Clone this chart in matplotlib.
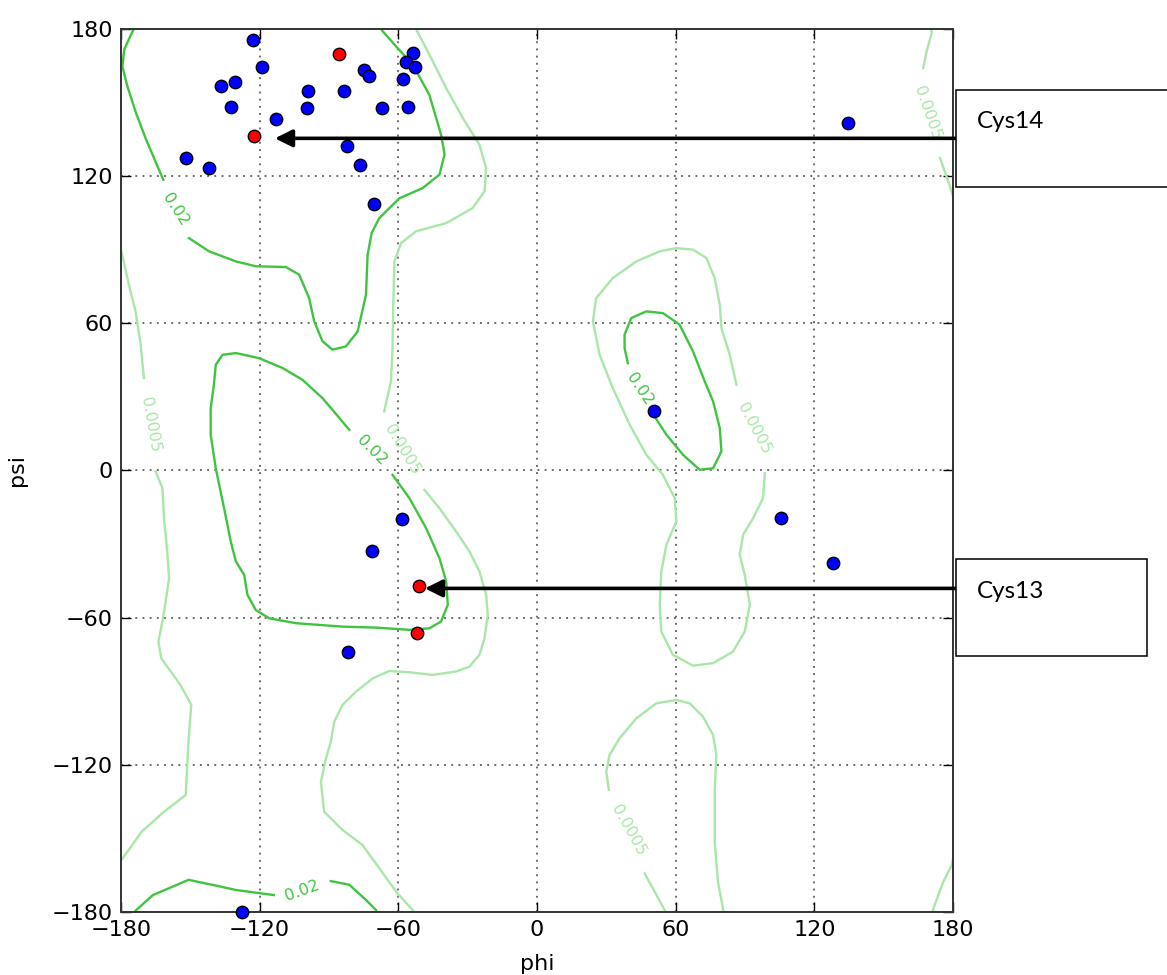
import numpy as np
import matplotlib.pyplot as plt
from matplotlib.patches import Rectangle

# residue dihedral angles (degrees)
phi_blue = [-123.1, -118.9, -136.7, -130.8, -132.4, -113.0, -152.0, -141.9, -99.0, -99.7,
            -83.4, -75.0, -72.6, -66.9, -82.0, -76.6, -70.4, -53.8, -56.8, -52.6,
            -57.8, -55.7, 134.5, 50.6, -58.4, -71.6, 105.5, 128.3, -81.7, -127.6]
psi_blue = [175.5, 164.6, 157.0, 158.6, 148.3, 143.4, 127.5, 123.4, 154.8, 148.0,
            155.0, 163.3, 160.8, 147.8, 132.4, 124.8, 108.7, 170.5, 166.7, 164.6,
            159.9, 148.2, 141.6, 24.4, -19.9, -32.7, -19.3, -37.8, -73.9, -180.0]
phi_red = [-122.4, -85.6, -51.2, -51.9]
psi_red = [136.3, 169.9, -47.1, -66.4]

# contour level 0.02 (traced pieces, phi/psi pairs)
c02_beta_left = [(-174.5, 180), (-175.6, 178), (-178.6, 171.7), (-179.4, 164.8), (-177.2, 156.6),
                 (-173.5, 145.8), (-169.1, 134.9), (-164.8, 125.4), (-161.7, 118.6)]
c02_beta_right = [(-150.6, 94.8), (-141.9, 89.4), (-130.3, 85.3), (-121.7, 83.3), (-108.7, 83.0),
                  (-102.9, 79.9), (-98.6, 70.3), (-96.4, 60.8), (-92.8, 52.7), (-88.5, 49.3),
                  (-82.7, 50.6), (-77.6, 56.7), (-74.0, 71.7), (-73.3, 88.0), (-71.5, 97.0),
                  (-68.2, 103.0), (-59.6, 111.0), (-49.5, 115.2), (-42.2, 120.7), (-40.0, 129.0),
                  (-41.5, 137.0), (-46.6, 153.3), (-53.8, 165.6), (-60.0, 172.0), (-66.8, 179.2),
                  (-67.3, 180)]
c02_beta_bottom_a = [(-174.0, -180), (-173.4, -179.3), (-166.2, -173.2), (-150.8, -167.0),
                     (-140.1, -169.1), (-130.5, -171.1), (-113.9, -173.2)]
c02_beta_bottom_b = [(-89.2, -167.5), (-81.2, -169.0), (-74.0, -175.2), (-69.7, -179.3), (-69.4, -180)]
c02_alpha_r = [(-62.5, -1.8), (-55.2, -11.3), (-48.0, -23.5), (-42.2, -35.8), (-39.3, -45.3),
               (-38.6, -54.8), (-41.5, -61.6), (-46.6, -64.4), (-55.2, -65.0), (-69.7, -64.1),
               (-84.1, -63.7), (-104.3, -62.3), (-115.9, -60.3), (-121.7, -56.9), (-125.3, -50.7),
               (-126.7, -42.6), (-130.3, -37.1), (-132.5, -29.0), (-135.4, -15.4), (-139.0, 0.9),
               (-141.2, 14.6), (-141.2, 25.4), (-139.8, 35.0), (-139.0, 43.1), (-136.1, 47.2),
               (-130.3, 47.9), (-120.2, 45.8), (-110.1, 41.8), (-101.5, 37.0), (-92.8, 29.5),
               (-81.2, 16.6)]
c02_alpha_l = [(50.9, 22.0), (56.0, 14.6), (63.2, 6.4), (70.4, 0.3), (76.2, 0.9), (79.8, 7.8),
               (79.1, 17.3), (76.2, 28.2), (72.6, 36.3), (67.5, 48.6), (61.7, 59.5), (54.5, 64.2),
               (47.3, 64.9), (40.8, 62.2), (37.9, 55.4), (37.9, 49.9), (39.3, 43.8)]

# contour level 0.0005
c0005_main_top = [(-52.3, 180), (-46.6, 169.7), (-39.3, 156.0), (-32.1, 143.8), (-24.9, 132.9),
                  (-22.0, 123.4), (-22.7, 113.9), (-27.8, 107.1), (-39.3, 100.9), (-52.3, 97.6),
                  (-58.8, 92.8), (-61.7, 85.3), (-62.2, 67.6), (-62.5, 49.9), (-63.2, 36.3),
                  (-66.1, 24.1)]
c0005_main_bottom = [(-48.7, -7.9), (-42.2, -15.4), (-35.0, -24.9), (-29.2, -33.1), (-24.9, -41.2),
                     (-22.0, -50.7), (-21.3, -58.9), (-22.7, -68.4), (-24.9, -75.2), (-29.2, -80.0),
                     (-35.0, -82.0), (-45.1, -83.4), (-55.2, -82.3), (-63.9, -81.8), (-71.1, -84.8),
                     (-78.3, -90.2), (-84.1, -95.6), (-87.7, -102.4), (-89.2, -110.6), (-91.3, -117.4),
                     (-93.5, -127.0), (-92.1, -139.2), (-84.1, -146.7), (-75.5, -152.8),
                     (-68.2, -162.3), (-61.0, -171.8), (-53.8, -179.3), (-53.4, -180)]
c0005_left_top = [(-180, 90.0), (-179.5, 88.0), (-176.6, 75.8), (-173.7, 64.9), (-171.5, 51.3),
                  (-170.1, 37.7)]
c0005_left_bottom = [(-165.0, -0.4), (-162.1, -7.2), (-161.4, -19.5), (-160.0, -33.1), (-159.2, -44.0),
                     (-160.7, -53.5), (-162.1, -61.6), (-163.8, -69.8), (-162.6, -76.6),
                     (-154.3, -87.5), (-149.6, -95.6), (-150.8, -110.6), (-152.0, -132.4),
                     (-161.4, -139.2), (-171.0, -147.3), (-179.3, -158.2), (-180, -159.0)]
c0005_right_top_a = [(170.6, 180), (170.8, 178.5), (168.6, 171.0), (167.1, 164.2)]
c0005_right_top_b = [(174.4, 127.5), (178.7, 115.9), (180, 112.0)]
c0005_right_bottom = [(180, -158.5), (179.5, -160.9), (175.8, -167.8), (171.5, -178.7), (171.2, -180)]
c0005_alpha_l = [(98.6, -1.1), (97.8, -11.3), (93.5, -19.5), (89.2, -26.2), (87.7, -34.4),
                 (89.9, -42.6), (92.1, -54.8), (89.9, -65.7), (84.8, -73.9), (76.2, -78.6),
                 (67.5, -79.6), (58.8, -75.2), (53.8, -65.7), (53.1, -54.8), (53.8, -41.2),
                 (56.0, -30.3), (60.3, -20.8), (59.6, -11.3), (54.5, -1.8), (47.3, 6.4),
                 (40.1, 18.7), (32.8, 33.6), (27.1, 47.2), (24.2, 60.8), (25.6, 70.3),
                 (32.8, 78.5), (43.0, 85.3), (53.1, 89.4), (60.3, 90.7), (67.5, 90.1),
                 (73.3, 86.7), (76.9, 78.5), (79.1, 67.6), (79.8, 58.1), (83.4, 47.2),
                 (86.3, 35.0)]
c0005_tongue_a = [(31.1, -130.3), (30.0, -122.9), (31.4, -116.0), (35.7, -109.3), (43.0, -101.1),
                  (51.6, -95.0), (60.3, -93.6), (66.1, -95.0), (71.8, -100.4), (76.2, -107.9),
                  (77.6, -116.0), (76.9, -131.0), (76.9, -151.4), (78.3, -167.8), (80.5, -178.7),
                  (80.6, -180)]
c0005_tongue_b = [(46.6, -164.4), (50.9, -171.8), (55.2, -179.3), (55.5, -180)]

c02_pieces = [c02_beta_left, c02_beta_right, c02_beta_bottom_a, c02_beta_bottom_b,
              c02_alpha_r, c02_alpha_l]
c0005_pieces = [c0005_main_top, c0005_main_bottom, c0005_left_top, c0005_left_bottom,
                c0005_right_top_a, c0005_right_top_b, c0005_right_bottom, c0005_alpha_l,
                c0005_tongue_a, c0005_tongue_b]

# inline contour labels: phi, psi, rotation
c02_labels = [(-156.4, 106.3, -57), (-71.3, 8.4, -45), (44.4, 33.0, -56), (-101.6, -171.5, 20)]
c0005_labels = [(-58.3, 8.6, -59), (-167.5, 18.6, -80), (168.9, 145.7, -71),
                (93.9, 17.1, -62), (39.5, -146.7, -61)]

dark = '#3fc43f'
light = '#a9e7a9'

fig = plt.figure(figsize=(11.67, 9.75), dpi=100)
ax = fig.add_axes([0.1037, 0.0649, 0.7129, 0.9051])

for piece in c0005_pieces:
    p = np.array(piece)
    ax.plot(p[:, 0], p[:, 1], color=light, lw=1.7, zorder=2, solid_joinstyle='round')
for piece in c02_pieces:
    p = np.array(piece)
    ax.plot(p[:, 0], p[:, 1], color=dark, lw=1.7, zorder=2, solid_joinstyle='round')
for x, y, r in c0005_labels:
    ax.text(x, y, '0.0005', color=light, fontsize=11.5, rotation=r,
            ha='center', va='center', rotation_mode='anchor', zorder=2)
for x, y, r in c02_labels:
    ax.text(x, y, '0.02', color=dark, fontsize=11.5, rotation=r,
            ha='center', va='center', rotation_mode='anchor', zorder=2)

ax.scatter(phi_blue, psi_blue, s=80, c='b', edgecolors='k', linewidths=1, zorder=4, clip_on=False)
ax.scatter(phi_red, psi_red, s=80, c='r', edgecolors='k', linewidths=1, zorder=4)

ax.set_xlim(-180, 180)
ax.set_ylim(-180, 180)
ax.set_xticks(range(-180, 181, 60))
ax.set_yticks(range(-180, 181, 60))
ax.grid(True, linestyle=(0, (1.2, 3.5)), color='0.25', lw=1.1)
ax.tick_params(direction='in', top=True, right=True, length=7, width=1, labelsize=16, pad=6)
for s in ax.spines.values():
    s.set_linewidth(1.4)
    s.set_color('0.2')
ax.set_xlabel('phi', fontsize=16, labelpad=10)
ax.set_ylabel('psi', fontsize=16, labelpad=18)

# Cys annotations
arrow = dict(arrowstyle='-|>', color='k', lw=2.6, mutation_scale=26, shrinkA=0, shrinkB=0)
ax.annotate('', xy=(-113.4, 135.5), xytext=(181.7, 135.5), arrowprops=arrow,
            annotation_clip=False, zorder=5)
ax.annotate('', xy=(-48.5, -48.1), xytext=(181.7, -48.1), arrowprops=arrow,
            annotation_clip=False, zorder=5)

fig.patches.append(Rectangle((0.8192, 0.8079), 0.25, 0.0998, transform=fig.transFigure,
                             fc='white', ec='k', lw=1.1))
fig.patches.append(Rectangle((0.8192, 0.3275), 0.1634, 0.0989, transform=fig.transFigure,
                             fc='white', ec='k', lw=1.1))
fig.text(0.8369, 0.8687, 'Cys14', family=['Lato', 'DejaVu Sans'], fontsize=17.5, va='baseline')
fig.text(0.8369, 0.3867, 'Cys13', family=['Lato', 'DejaVu Sans'], fontsize=17.5, va='baseline')

fig.savefig('out.png', dpi=100)
